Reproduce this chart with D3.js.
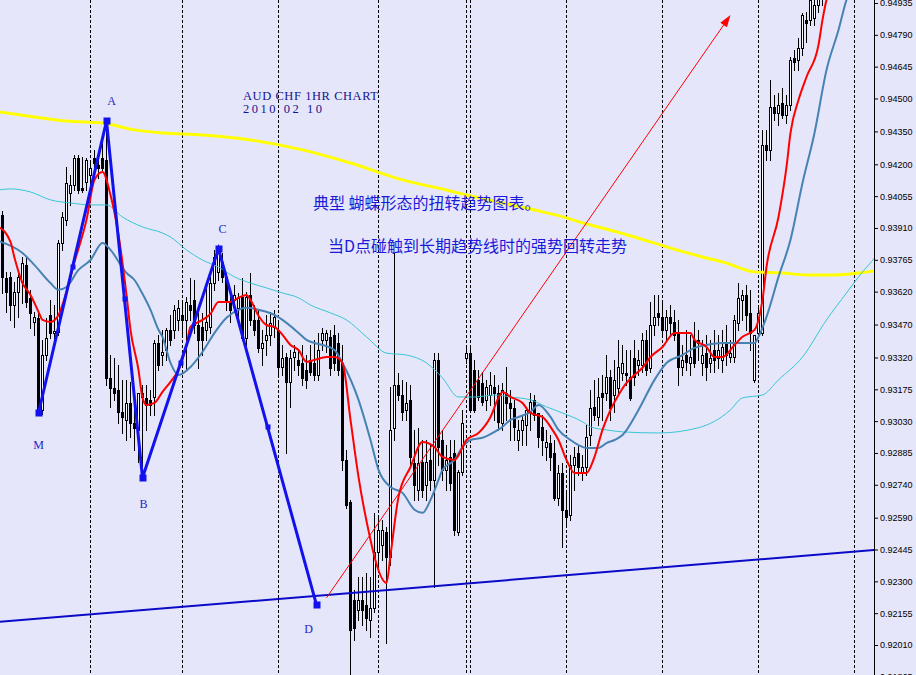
<!DOCTYPE html>
<html><head><meta charset="utf-8">
<script src="https://cdn.jsdelivr.net/npm/d3@7"></script>
<style>
html,body{margin:0;padding:0;background:#e6e6fa;overflow:hidden}
svg{display:block}
</style></head><body>
<svg id="chart" width="916" height="675"></svg>
<script>
// ---------------- DATA (AUD/CHF, 1 hour bars) ----------------
const open=[
0.93969,0.93683,0.93687,0.93559,0.93619,0.93664,0.93741,0.93592,0.93482,0.93501,
0.93081,0.93331,0.93514,0.93432,0.93437,0.93842,0.93947,0.94069,0.94106,0.94230,
0.94093,0.94120,0.94151,0.94230,0.94197,0.94230,0.94220,0.93227,0.93182,0.93172,
0.93072,0.93036,0.93113,0.93022,0.92990,0.93158,0.93136,0.93127,0.93140,0.93386,
0.93331,0.93354,0.93446,0.93446,0.93491,0.93514,0.93491,0.93559,0.93582,0.93468,
0.93459,0.93446,0.93459,0.93659,0.93710,0.93755,0.93687,0.93573,0.93582,0.93546,
0.93596,0.93410,0.93605,0.93491,0.93491,0.93364,0.93400,0.93423,0.93459,0.93446,
0.93277,0.93322,0.93209,0.93322,0.93309,0.93295,0.93263,0.93309,0.93295,0.93240,
0.93400,0.93400,0.93414,0.93423,0.93386,0.93295,0.92853,0.92662,0.92216,0.92170,
0.92216,0.92193,0.92124,0.92180,0.92434,0.92466,0.92525,0.92411,0.93000,0.93195,
0.93149,0.93081,0.93127,0.92839,0.92717,0.92844,0.92739,0.92853,0.92762,0.93309,
0.92944,0.92808,0.92867,0.92885,0.92525,0.92799,0.93318,0.93340,0.93263,0.93218,
0.93204,0.93127,0.93149,0.93186,0.93158,0.93022,0.93158,0.93113,0.93091,0.92944,
0.92990,0.93013,0.93072,0.93127,0.93067,0.93004,0.92912,0.92930,0.92885,0.92681,
0.92794,0.92626,0.92603,0.92830,0.92885,0.92794,0.92821,0.92967,0.93095,0.93049,
0.93158,0.93158,0.93231,0.93149,0.93182,0.93249,0.93249,0.93231,0.93318,0.93286,
0.93286,0.93400,0.93273,0.93468,0.93523,0.93505,0.93446,0.93505,0.93482,0.93437,
0.93277,0.93331,0.93295,0.93400,0.93400,0.93295,0.93340,0.93295,0.93354,0.93318,
0.93309,0.93386,0.93322,0.93322,0.93477,0.93582,0.93605,0.93523,0.93218,0.93432,
0.93432,0.94288,0.94266,0.94461,0.94434,0.94479,0.94425,0.94470,0.94685,0.94676,
0.94730,0.94858,0.94858,0.94867,0.94926,0.94963];
const high=[
0.93987,0.93710,0.93710,0.93664,0.93719,0.93778,0.93774,0.93628,0.93528,0.93528,
0.93400,0.93501,0.93582,0.93559,0.93856,0.93983,0.94188,0.94151,0.94243,0.94243,
0.94234,0.94230,0.94220,0.94266,0.94234,0.94311,0.94388,0.93331,0.93318,0.93286,
0.93218,0.93218,0.93209,0.93140,0.93149,0.93195,0.93195,0.93172,0.93400,0.93423,
0.93446,0.93455,0.93514,0.93559,0.93582,0.93582,0.93596,0.93683,0.93673,0.93523,
0.93523,0.93650,0.93687,0.93810,0.93815,0.93796,0.93705,0.93614,0.93650,0.93614,
0.93683,0.93619,0.93705,0.93559,0.93537,0.93446,0.93514,0.93528,0.93537,0.93477,
0.93377,0.93340,0.93354,0.93377,0.93354,0.93377,0.93331,0.93377,0.93400,0.93432,
0.93455,0.93446,0.93446,0.93468,0.93432,0.93377,0.92899,0.92671,0.92261,0.92320,
0.92320,0.92338,0.92320,0.92612,0.92603,0.92580,0.92548,0.93186,0.93796,0.93249,
0.93218,0.93209,0.93195,0.92990,0.93000,0.92944,0.92944,0.92921,0.93340,0.93340,
0.92990,0.92921,0.92944,0.92944,0.92808,0.93081,0.93368,0.93368,0.93309,0.93263,
0.93254,0.93218,0.93254,0.93240,0.93195,0.93204,0.93277,0.93172,0.93127,0.93036,
0.93058,0.93091,0.93158,0.93149,0.93067,0.93058,0.92990,0.92967,0.92944,0.92830,
0.92839,0.92717,0.92876,0.92912,0.92921,0.92876,0.93013,0.93172,0.93218,0.93227,
0.93240,0.93331,0.93263,0.93309,0.93400,0.93377,0.93354,0.93354,0.93400,0.93354,
0.93432,0.93446,0.93573,0.93605,0.93605,0.93568,0.93537,0.93559,0.93537,0.93491,
0.93377,0.93446,0.93423,0.93482,0.93446,0.93400,0.93423,0.93400,0.93446,0.93423,
0.93446,0.93468,0.93400,0.93514,0.93659,0.93628,0.93650,0.93628,0.93423,0.93559,
0.94357,0.94357,0.94584,0.94516,0.94525,0.94548,0.94516,0.94689,0.94721,0.94776,
0.94890,0.94894,0.94972,0.94972,0.94995,0.95040];
const low=[
0.93614,0.93528,0.93491,0.93459,0.93505,0.93568,0.93550,0.93455,0.93423,0.93067,
0.93063,0.93309,0.93410,0.93400,0.93423,0.93810,0.93924,0.94015,0.94083,0.94069,
0.94074,0.94083,0.94106,0.94174,0.94138,0.94174,0.93195,0.93095,0.93127,0.93022,
0.92976,0.92944,0.92958,0.92899,0.92844,0.92772,0.92990,0.93058,0.93058,0.93263,
0.93286,0.93309,0.93377,0.93410,0.93446,0.93423,0.93263,0.93491,0.93432,0.93273,
0.93331,0.93400,0.93432,0.93628,0.93673,0.93664,0.93537,0.93482,0.93559,0.93501,
0.93400,0.93377,0.93468,0.93423,0.93345,0.93286,0.93331,0.93377,0.93414,0.93240,
0.93240,0.92885,0.93095,0.93263,0.93240,0.93195,0.93182,0.93240,0.93218,0.93218,
0.93354,0.93345,0.93240,0.93263,0.93240,0.92808,0.92635,0.91851,0.92033,0.92124,
0.92101,0.92079,0.92047,0.92161,0.92375,0.92398,0.92019,0.92375,0.92944,0.93127,
0.93036,0.93036,0.92830,0.92671,0.92671,0.92685,0.92671,0.92717,0.92275,0.92830,
0.92762,0.92717,0.92717,0.92511,0.92511,0.92785,0.93295,0.93072,0.93072,0.93127,
0.93104,0.93081,0.93104,0.93036,0.92990,0.92990,0.93036,0.92944,0.92944,0.92899,
0.92921,0.92921,0.92990,0.93036,0.92912,0.92876,0.92853,0.92808,0.92671,0.92648,
0.92457,0.92557,0.92580,0.92717,0.92785,0.92762,0.92785,0.92921,0.93036,0.93013,
0.93036,0.93127,0.93036,0.93072,0.93149,0.93218,0.93195,0.93127,0.93195,0.93240,
0.93254,0.93240,0.93254,0.93423,0.93468,0.93423,0.93400,0.93423,0.93400,0.93195,
0.93240,0.93263,0.93240,0.93277,0.93309,0.93240,0.93218,0.93254,0.93254,0.93273,
0.93254,0.93286,0.93300,0.93300,0.93446,0.93491,0.93446,0.93354,0.93209,0.93423,
0.93423,0.94220,0.94220,0.94402,0.94379,0.94411,0.94388,0.94448,0.94630,0.94630,
0.94698,0.94758,0.94835,0.94835,0.94894,0.94926];
const close=[
0.93687,0.93619,0.93559,0.93619,0.93687,0.93750,0.93573,0.93523,0.93505,0.93081,
0.93331,0.93410,0.93432,0.93441,0.93842,0.93960,0.94115,0.94106,0.94230,0.94083,
0.94083,0.94220,0.94184,0.94206,0.94184,0.94184,0.93227,0.93182,0.93158,0.93072,
0.93049,0.93113,0.93022,0.93000,0.93158,0.93140,0.93104,0.93104,0.93386,0.93286,
0.93345,0.93446,0.93400,0.93537,0.93546,0.93491,0.93573,0.93537,0.93468,0.93400,
0.93400,0.93482,0.93659,0.93778,0.93810,0.93687,0.93573,0.93537,0.93605,0.93592,
0.93410,0.93596,0.93491,0.93446,0.93364,0.93386,0.93423,0.93477,0.93505,0.93277,
0.93318,0.93209,0.93318,0.93345,0.93286,0.93227,0.93218,0.93254,0.93240,0.93354,
0.93432,0.93432,0.93273,0.93295,0.93263,0.92853,0.92648,0.92079,0.92088,0.92216,
0.92170,0.92134,0.92180,0.92434,0.92534,0.92534,0.92411,0.92990,0.93195,0.93149,
0.93072,0.93113,0.92867,0.92739,0.92839,0.92717,0.92844,0.92762,0.93309,0.92912,
0.92808,0.92853,0.92748,0.92534,0.92799,0.93022,0.93340,0.93081,0.93081,0.93140,
0.93118,0.93186,0.93195,0.93158,0.93027,0.93172,0.93113,0.93091,0.93004,0.92990,
0.93036,0.93081,0.93118,0.93058,0.92958,0.92944,0.92935,0.92867,0.92681,0.92794,
0.92626,0.92594,0.92830,0.92867,0.92821,0.92821,0.92958,0.93091,0.93058,0.93140,
0.93140,0.93231,0.93091,0.93218,0.93277,0.93295,0.93240,0.93136,0.93231,0.93309,
0.93400,0.93263,0.93468,0.93505,0.93505,0.93446,0.93505,0.93477,0.93423,0.93277,
0.93309,0.93300,0.93322,0.93295,0.93386,0.93331,0.93277,0.93318,0.93309,0.93354,
0.93368,0.93331,0.93340,0.93491,0.93592,0.93605,0.93514,0.93432,0.93423,0.93523,
0.94288,0.94266,0.94461,0.94434,0.94470,0.94425,0.94470,0.94676,0.94667,0.94730,
0.94881,0.94844,0.94949,0.94926,0.94963,0.95017];

// day separators (bar index of first bar of each day)
const daySeparators=[22,45,69,94,116,117,141,165,189,213];

// price axis tick labels
const priceTicks=[0.94935,0.94790,0.94645,0.94500,0.94350,0.94200,0.94055,0.93910,0.93765,
0.93620,0.93470,0.93320,0.93175,0.93030,0.92885,0.92740,0.92590,0.92445,0.92300,0.92155,0.92010,0.91865];

// moving averages: [bar index, price]
const maFast=[[-1,0.93915],[2,0.93847],[3,0.93774],[5,0.93659],[7,0.93605],[9,0.93528],[10,0.93491],[12,0.93482],[14,0.93514],[16,0.93619],[18,0.93755],[21,0.93947],[23,0.94129],[25,0.94165],[27,0.94060],[29,0.93878],[31,0.93605],[32,0.93446],[34,0.93263],[35,0.93136],[36,0.93104],[38,0.93113],[40,0.93163],[42,0.93209],[44,0.93263],[46,0.93377],[47,0.93459],[50,0.93491],[52,0.93519],[54,0.93573],[57,0.93573],[59,0.93592],[61,0.93605],[62,0.93582],[64,0.93510],[66,0.93468],[68,0.93459],[70,0.93423],[72,0.93377],[74,0.93354],[76,0.93300],[78,0.93309],[81,0.93322],[83,0.93322],[85,0.93295],[87,0.93036],[89,0.92776],[92,0.92489],[93,0.92411],[96,0.92293],[97,0.92420],[99,0.92685],[102,0.92821],[105,0.92935],[108,0.92912],[110,0.92867],[113,0.92853],[116,0.92944],[119,0.92976],[122,0.93049],[124,0.93136],[125,0.93163],[127,0.93140],[130,0.93113],[132,0.93067],[135,0.93049],[137,0.93004],[139,0.92944],[141,0.92853],[143,0.92794],[146,0.92794],[148,0.92867],[150,0.92990],[152,0.93081],[154,0.93149],[156,0.93204],[158,0.93240],[160,0.93273],[162,0.93322],[165,0.93368],[168,0.93432],[170,0.93432],[172,0.93432],[173,0.93400],[176,0.93368],[178,0.93322],[180,0.93322],[183,0.93377],[185,0.93414],[188,0.93446],[189,0.93491],[190,0.93582],[191,0.93732],[194,0.93960],[196,0.94188],[197,0.94343],[199,0.94493],[201,0.94598],[204,0.94744],[205,0.94858],[206,0.94949],[207,0.94995]];
const maMid=[[-1,0.93851],[5,0.93796],[8,0.93741],[12,0.93659],[14,0.93628],[16,0.93641],[19,0.93719],[22,0.93764],[25,0.93842],[27,0.93810],[31,0.93705],[33,0.93673],[35,0.93610],[37,0.93537],[39,0.93446],[40,0.93414],[42,0.93295],[44,0.93240],[47,0.93277],[50,0.93345],[53,0.93432],[56,0.93501],[59,0.93537],[61,0.93546],[64,0.93537],[68,0.93514],[70,0.93491],[74,0.93432],[76,0.93400],[78,0.93386],[80,0.93377],[83,0.93354],[85,0.93295],[89,0.93127],[92,0.92944],[94,0.92808],[97,0.92730],[100,0.92703],[103,0.92626],[105,0.92612],[107,0.92671],[109,0.92762],[110,0.92808],[113,0.92853],[115,0.92912],[117,0.92944],[120,0.92954],[123,0.92981],[125,0.93004],[127,0.93036],[129,0.93049],[132,0.93072],[134,0.93104],[137,0.93049],[139,0.92990],[142,0.92944],[144,0.92921],[146,0.92908],[149,0.92908],[151,0.92930],[153,0.92944],[155,0.92967],[159,0.93081],[163,0.93218],[166,0.93295],[170,0.93331],[173,0.93364],[176,0.93377],[180,0.93386],[183,0.93386],[188,0.93386],[189,0.93414],[191,0.93505],[194,0.93687],[197,0.93856],[200,0.94115],[203,0.94343],[206,0.94630],[209,0.94812],[211,0.94949],[212,0.94995]];
const maSlow=[[-1,0.94083],[2,0.94088],[7,0.94074],[12,0.94038],[17,0.94024],[22,0.94015],[26,0.94015],[30,0.93960],[35,0.93915],[40,0.93887],[42,0.93869],[46,0.93810],[50,0.93764],[54,0.93732],[58,0.93687],[62,0.93659],[66,0.93637],[70,0.93614],[74,0.93592],[77,0.93559],[82,0.93523],[86,0.93491],[91,0.93414],[96,0.93340],[101,0.93331],[106,0.93295],[110,0.93227],[114,0.93140],[118,0.93140],[123,0.93149],[127,0.93140],[132,0.93127],[136,0.93095],[140,0.93067],[145,0.93027],[147,0.93004],[151,0.92990],[155,0.92981],[164,0.92976],[174,0.93000],[182,0.93081],[185,0.93136],[190,0.93149],[194,0.93218],[200,0.93322],[206,0.93491],[211,0.93614],[215,0.93710],[218,0.93774],[219,0.93801]];
const maLong=[[-1,0.94439],[8,0.94416],[16,0.94397],[25,0.94388],[33,0.94357],[40,0.94343],[50,0.94334],[62,0.94311],[75,0.94266],[87,0.94206],[100,0.94129],[111,0.94083],[116,0.94060],[125,0.94024],[133,0.93992],[141,0.93956],[145,0.93933],[150,0.93910],[158,0.93869],[166,0.93824],[175,0.93778],[181,0.93750],[188,0.93710],[195,0.93705],[201,0.93696],[208,0.93696],[214,0.93705],[218,0.93714]];

// long-term trend line and pattern
const trendLine=[[-1,0.92115],[218,0.92443]];
const patternLabels=["M","A","B","C","D"];
const patternIdx=[9,26,35,54,78.5];
const patternPrice=[0.93067,0.94397,0.92772,0.93815,0.92193];
const arrowLine=[[81,0.92225],[182,0.94880]];

const titleLines=["AUD CHF 1HR CHART","2010 02 10"];
const notes=["典型 蝴蝶形态的扭转趋势图表。","当D点碰触到长期趋势线时的强势回转走势"];

// ---------------- DRAWING ----------------
const W=916,H=675,plotRight=874;
const x=d3.scaleLinear().domain([0,218]).range([2.5,874.5]);
const y=d3.scaleLinear().domain([0.92010,0.94935]).range([645,3]);

const svg=d3.select("#chart");
svg.append("rect").attr("width",W).attr("height",H).attr("fill","#e6e6fa");
svg.append("defs").append("clipPath").attr("id","plot")
  .append("rect").attr("x",0).attr("y",0).attr("width",plotRight).attr("height",H);
const g=svg.append("g").attr("clip-path","url(#plot)");

// day separators
g.append("g").selectAll("line").data(daySeparators).join("line")
  .attr("x1",d=>x(d)).attr("x2",d=>x(d)).attr("y1",0).attr("y2",H)
  .attr("stroke","#000").attr("stroke-width",1).attr("stroke-dasharray","3,2");

// candles
const bars=d3.range(open.length).map(i=>({i,o:open[i],h:high[i],l:low[i],c:close[i]}));
const cg=g.append("g");
cg.selectAll("line").data(bars).join("line")
  .attr("x1",d=>x(d.i)).attr("x2",d=>x(d.i))
  .attr("y1",d=>Math.round(y(d.h))).attr("y2",d=>Math.round(y(d.l))+1)
  .attr("stroke","#000").attr("stroke-width",1);
cg.selectAll("rect").data(bars).join("rect").each(function(d){
  const t=Math.round(y(Math.max(d.o,d.c))), b=Math.round(y(Math.min(d.o,d.c)));
  const s=d3.select(this);
  if(d.c>=d.o){
    s.attr("x",x(d.i)-1).attr("y",t+0.5).attr("width",2).attr("height",Math.max(b-t,1))
     .attr("fill","#fff").attr("stroke","#000").attr("stroke-width",1);
  } else {
    s.attr("x",x(d.i)-1.5).attr("y",t).attr("width",3).attr("height",Math.max(b-t+1,1))
     .attr("fill","#000");
  }
});

// moving averages
const maLine=d3.line().x(d=>x(d[0])).y(d=>y(d[1])).curve(d3.curveMonotoneX);
[[maLong,"#ffff00",3],[maSlow,"#34c8d2",1],[maMid,"#4682b4",2],[maFast,"#ff0000",2]].forEach(([data,col,w])=>{
  g.append("path").datum(data).attr("d",maLine).attr("fill","none")
   .attr("stroke",col).attr("stroke-width",w).attr("stroke-linejoin","round");
});

// trend line
const straight=d3.line().x(d=>x(d[0])).y(d=>y(d[1]));
g.append("path").datum(trendLine).attr("d",straight).attr("fill","none")
  .attr("stroke","#0a0ac8").attr("stroke-width",2);

// butterfly pattern
const pts=patternIdx.map((v,k)=>[v,patternPrice[k]]);
g.append("path").datum(pts).attr("d",straight).attr("fill","none")
  .attr("stroke","#1212ee").attr("stroke-width",3).attr("stroke-linejoin","miter");
const mids=d3.pairs(pts).map(([a,b])=>[(a[0]+b[0])/2,(a[1]+b[1])/2]);
g.selectAll("rect.vtx").data(pts).join("rect").attr("class","vtx")
  .attr("x",d=>Math.round(x(d[0]))-3.5).attr("y",d=>Math.round(y(d[1]))-3.5)
  .attr("width",7).attr("height",7).attr("fill","#1212ee");
g.selectAll("rect.mid").data(mids).join("rect").attr("class","mid")
  .attr("x",d=>Math.round(x(d[0]))-2.5).attr("y",d=>Math.round(y(d[1]))-2.5)
  .attr("width",5).attr("height",5).attr("fill","#1212ee");
const labelOff={M:[0,36],A:[5,-16],B:[1,30],C:[4,-16],D:[-8,28]};
g.selectAll("text.plab").data(pts).join("text").attr("class","plab")
  .attr("x",(d,k)=>x(d[0])+labelOff[patternLabels[k]][0])
  .attr("y",(d,k)=>y(d[1])+labelOff[patternLabels[k]][1])
  .attr("text-anchor","middle").attr("font-family","Liberation Serif, serif")
  .attr("font-size",12).attr("fill","#1e1ec8").text((d,k)=>patternLabels[k]);

// red arrow
const a0=[x(arrowLine[0][0]),y(arrowLine[0][1])], a1=[x(arrowLine[1][0]),y(arrowLine[1][1])];
const ang=Math.atan2(a1[1]-a0[1],a1[0]-a0[0]);
const hl=12,hw=4;
const base=[a1[0]-hl*Math.cos(ang),a1[1]-hl*Math.sin(ang)];
g.append("line").attr("x1",a0[0]).attr("y1",a0[1]).attr("x2",base[0]).attr("y2",base[1])
  .attr("stroke","#ff0000").attr("stroke-width",1);
g.append("path").attr("d",`M${a1[0]},${a1[1]}L${base[0]-hw*Math.sin(ang)},${base[1]+hw*Math.cos(ang)}L${base[0]+hw*Math.sin(ang)},${base[1]-hw*Math.cos(ang)}Z`)
  .attr("fill","#ff0000");

// texts
const tl=[135,79];
titleLines.forEach((t,k)=>{
  svg.append("text").attr("x",243).attr("y",100+k*13).attr("font-family","Liberation Serif, serif")
    .attr("font-size",12.5).attr("fill","#14148c").attr("textLength",tl[k]).attr("lengthAdjust","spacing").text(t);
});
const notePos=[[313,209],[328,252]];
notes.forEach((t,k)=>{
  svg.append("text").attr("x",notePos[k][0]).attr("y",notePos[k][1])
    .attr("font-family","Noto Sans CJK SC, sans-serif").attr("font-size",16)
    .attr("fill","#1a1ad8").text(t);
});

// price axis
svg.append("line").attr("x1",plotRight+0.5).attr("x2",plotRight+0.5).attr("y1",0).attr("y2",H)
  .attr("stroke","#000").attr("stroke-width",1);
const ax=svg.append("g").attr("transform",`translate(${plotRight},0)`)
  .call(d3.axisRight(y).tickValues(priceTicks).tickFormat(d3.format(".5f")).tickSize(4).tickPadding(2));
ax.select(".domain").remove();
ax.selectAll("line").attr("stroke","#000");
ax.selectAll("text").attr("font-family","Liberation Sans, Arial, sans-serif").attr("font-size",9).attr("fill","#000");
</script>
</body></html>
